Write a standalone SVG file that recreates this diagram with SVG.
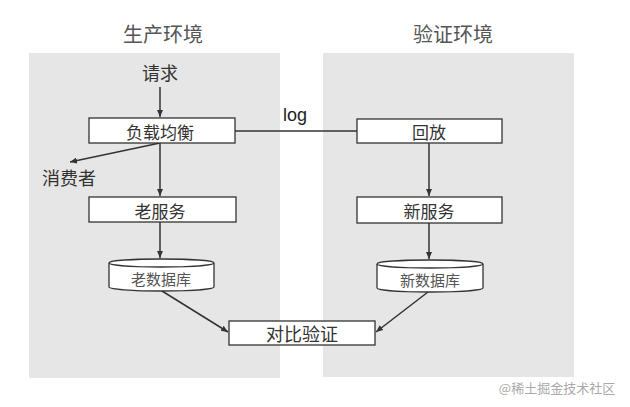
<svg xmlns="http://www.w3.org/2000/svg" width="630" height="407" viewBox="0 0 630 407">
<style>
.panel{fill:#e6e6e6;}
.box{fill:#ffffff;stroke:#333333;stroke-width:1.3;}
.t{font-family:"Noto Sans CJK SC","Liberation Sans",sans-serif;fill:#333333;text-anchor:middle;dominant-baseline:central;}
.title{font-size:20px;fill:#555555;}
.lbl{font-size:17px;}
.db{font-size:15px;fill:#555555;}
.edge{stroke:#333333;stroke-width:1.5;fill:none;}
</style>
<defs>
<marker id="arr" markerWidth="8" markerHeight="8" refX="7" refY="4" orient="auto" markerUnits="userSpaceOnUse">
<path d="M0,1 L7,4 L0,7 Z" fill="#333333"/>
</marker>
</defs>
<rect width="630" height="407" fill="#ffffff"/>
<g id="panels">
<rect class="panel" x="29" y="53" width="251" height="325"/>
<rect class="panel" x="323" y="53" width="251" height="324"/>
</g>
<g id="titles">
<text class="t title" x="163" y="33">生产环境</text>
<text class="t title" x="453" y="33">验证环境</text>
</g>
<g id="connectors">
<line class="edge" x1="160" y1="87" x2="160" y2="117" marker-end="url(#arr)"/>
<line class="edge" x1="235" y1="131" x2="357" y2="131"/>
<line class="edge" x1="160" y1="143" x2="70" y2="162" marker-end="url(#arr)"/>
<line class="edge" x1="160" y1="143" x2="160" y2="196" marker-end="url(#arr)"/>
<line class="edge" x1="160" y1="222" x2="160" y2="258" marker-end="url(#arr)"/>
<line class="edge" x1="162" y1="291" x2="228" y2="332" marker-end="url(#arr)"/>
<line class="edge" x1="429" y1="143" x2="429" y2="196" marker-end="url(#arr)"/>
<line class="edge" x1="429" y1="223" x2="429" y2="259" marker-end="url(#arr)"/>
<line class="edge" x1="428" y1="292" x2="376" y2="332" marker-end="url(#arr)"/>
<text x="295" y="121" font-family="'Liberation Sans',sans-serif" font-size="18" fill="#222222" text-anchor="middle">log</text>
</g>
<g id="request"><text class="t" x="160" y="72" font-size="18">请求</text></g>
<g id="consumer"><text class="t" x="69" y="177" font-size="18">消费者</text></g>
<g id="lb">
<rect class="box" x="89" y="118" width="146" height="25"/>
<text class="t lbl" x="160" y="131">负载均衡</text>
</g>
<g id="old-service">
<rect class="box" x="89" y="197" width="147" height="25"/>
<text class="t lbl" x="160" y="210">老服务</text>
</g>
<g id="old-db">
<path class="box" d="M109,263 A52.5,4 0 0 1 214,263 L214,287 A52.5,4 0 0 1 109,287 Z"/>
<path class="box" d="M109,263 A52.5,4 0 0 0 214,263" fill="none"/>
<text class="t db" x="161" y="278">老数据库</text>
</g>
<g id="replay">
<rect class="box" x="357" y="119" width="145" height="24"/>
<text class="t lbl" x="429" y="131">回放</text>
</g>
<g id="new-service">
<rect class="box" x="357" y="197" width="145" height="26"/>
<text class="t lbl" x="429" y="210">新服务</text>
</g>
<g id="new-db">
<path class="box" d="M377,264 A53,4 0 0 1 483,264 L483,288 A53,4 0 0 1 377,288 Z"/>
<path class="box" d="M377,264 A53,4 0 0 0 483,264" fill="none"/>
<text class="t db" x="430" y="279">新数据库</text>
</g>
<g id="compare">
<rect class="box" x="229" y="321" width="146" height="24"/>
<text class="t" x="302" y="333" font-size="18">对比验证</text>
</g>
<g id="watermark"><text x="557" y="387" font-family="'Noto Sans CJK SC',sans-serif" font-size="13" fill="#aaaaaa" text-anchor="middle" dominant-baseline="central">@稀土掘金技术社区</text></g>
</svg>
